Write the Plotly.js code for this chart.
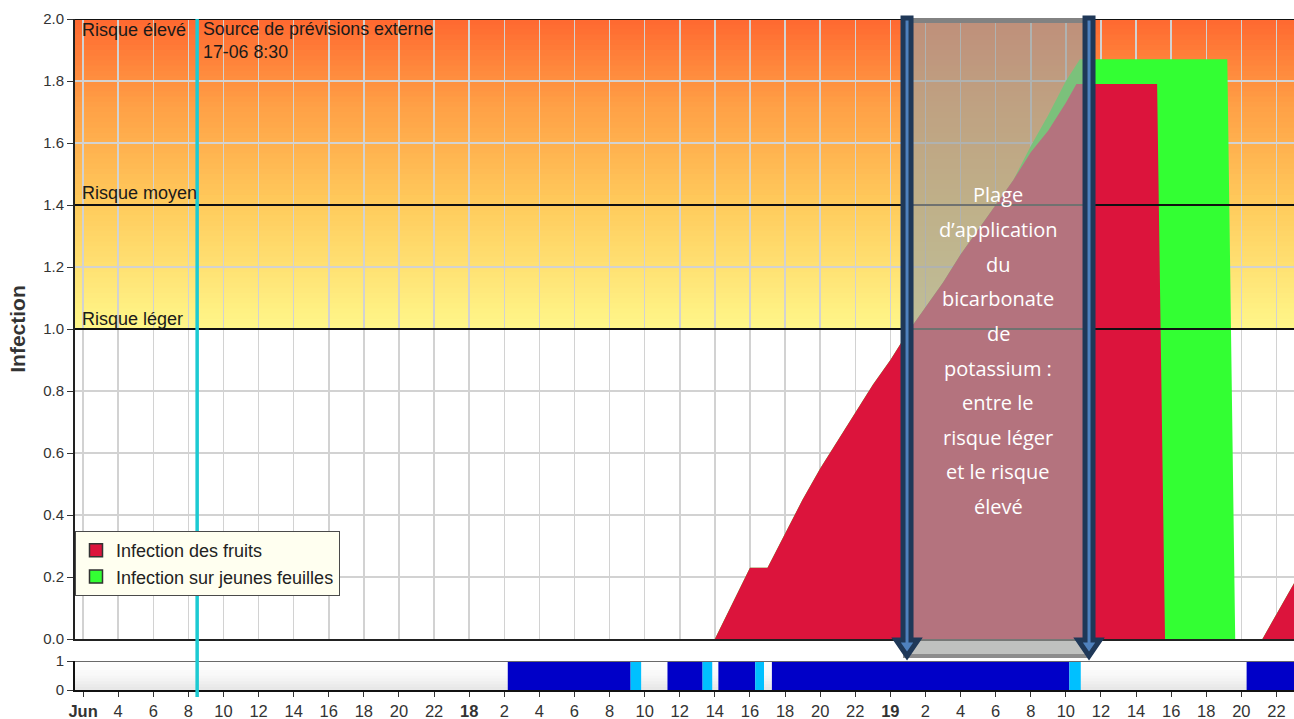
<!DOCTYPE html>
<html>
<head>
<meta charset="utf-8">
<script src="https://cdn.plot.ly/plotly-3.0.1.min.js"></script>
<style>
html,body{margin:0;padding:0;background:#fff;}
#chart{width:1294px;height:719px;}
</style>
</head>
<body>
<div id="chart"></div>
<script>
// ---------------- DATA (x = hours since 17 June 00:00) ----------------
const fruitHours  = [38.0, 40.0, 41.0, 42.0, 43.0, 44.0, 45.0, 46.0, 47.0, 48.0, 49.0, 50.0, 51.0, 52.0, 53.0, 54.0, 55.0, 56.0, 57.0, 58.0, 58.6, 63.2, 63.65, 69.2, 71.0];
const fruitValues = [0.00, 0.23, 0.23, 0.34, 0.45, 0.55, 0.64, 0.73, 0.82, 0.90, 0.99, 1.07, 1.15, 1.24, 1.32, 1.40, 1.48, 1.57, 1.64, 1.73, 1.79, 1.79, 0.00, 0.00, 0.18];

const leafHours   = [38.0, 40.0, 41.0, 42.0, 43.0, 44.0, 45.0, 46.0, 47.0, 48.0, 49.0, 50.0, 51.0, 52.0, 53.0, 54.0, 55.0, 56.0, 57.0, 58.0, 58.8, 67.2, 67.65, 69.2, 71.0];
const leafValues  = [0.00, 0.23, 0.23, 0.34, 0.45, 0.55, 0.64, 0.73, 0.82, 0.90, 0.99, 1.07, 1.15, 1.24, 1.32, 1.40, 1.48, 1.59, 1.69, 1.80, 1.87, 1.87, 0.00, 0.00, 0.18];

// lower strip (0/1 periods)
const wetStart = [26.2, 33.2, 35.3, 37.3, 38.2, 40.3, 41.25, 58.2, 68.3];
const wetEnd   = [33.2, 33.8, 37.3, 37.85, 40.3, 40.8, 58.2, 58.85, 71.0];
const wetKind  = ['dark', 'light', 'dark', 'light', 'dark', 'light', 'dark', 'light', 'dark'];

const tickHours  = [2,4,6,8,10,12,14,16,18,20,22,24,26,28,30,32,34,36,38,40,42,44,46,48,50,52,54,56,58,60,62,64,66,68,70];
const tickLabels = ['<b>Jun</b>','4','6','8','10','12','14','16','18','20','22','<b>18</b>','2','4','6','8','10','12','14','16','18','20','22','<b>19</b>','2','4','6','8','10','12','14','16','18','20','22'];

const riskLevels = [1.0, 1.4, 2.0];
const riskLabels = ['Risque léger', 'Risque moyen', 'Risque élevé'];

const forecastHour  = 8.5;
const forecastLabel = ['Source de prévisions externe', '17-06 8:30'];

const seriesNames = ['Infection des fruits', 'Infection sur jeunes feuilles'];

const applicationRange = [48.95, 59.32];
const boxLines = ['Plage', 'd’application', 'du', 'bicarbonate', 'de', 'potassium :', 'entre le', 'risque léger', 'et le risque', 'élevé'];

// ---------------- STYLE ----------------
const FRUIT = '#dc143c', LEAF = '#33ff33', DARKWET = '#0000c8', LIGHTWET = '#00c0ff';
const X0 = 1.54, X1 = 71.0;
const PXH = 1 / 17.55;            // one pixel in hours
const py = y => (690 - y) / 671;  // pixel row -> paper y

function hex2rgb(h){h=h.replace('#','');return [0,2,4].map(i=>parseInt(h.substr(i,2),16));}
function mix(stops, t){
  for(let i=0;i<stops.length-1;i++){
    const [a,ca]=stops[i],[b,cb]=stops[i+1];
    if(t<=b){const f=(t-a)/(b-a);const A=hex2rgb(ca),B=hex2rgb(cb);
      return 'rgb('+A.map((v,k)=>Math.round(v+(B[k]-v)*f)).join(',')+')';}
  }
  return stops[stops.length-1][1];
}

const shapes = [];
// gradient risk band (between lowest and highest risk level)
const bandStops = [[0,'#fff78a'],[0.4,'#ffcb5c'],[0.72,'#ffa046'],[1,'#ff6830']];
const NB = 60, lo = riskLevels[0], hi = riskLevels[riskLevels.length-1];
for(let i=0;i<NB;i++){
  const y0 = lo + (hi-lo)*i/NB, y1 = lo + (hi-lo)*(i+1.2)/NB;
  shapes.push({type:'rect', xref:'paper', yref:'y', x0:0, x1:1, y0:y0, y1:Math.min(y1,hi),
    fillcolor:mix(bandStops,(i+0.5)/NB), line:{width:0}, layer:'below'});
}
// lower panel background gradient
for(let i=0;i<10;i++){
  shapes.push({type:'rect', xref:'paper', yref:'y2', x0:0, x1:1, y0:i/10, y1:Math.min((i+1.2)/10,1),
    fillcolor:mix([[0,'#e6e6e6'],[0.5,'#f8f8f8'],[1,'#ffffff']],(i+0.5)/10), line:{width:0}, layer:'below'});
}
// risk lines
riskLevels.forEach(v=>shapes.push({type:'line', xref:'paper', yref:'y', x0:0, x1:1, y0:v, y1:v,
  line:{color:'#111', width:2}, layer:'above'}));
// lower panel top border
shapes.push({type:'line', xref:'paper', yref:'y2', x0:0, x1:1, y0:1, y1:1, line:{color:'#6a6a6a', width:2}, layer:'above'});
// forecast line
shapes.push({type:'line', xref:'x', yref:'paper', x0:forecastHour, x1:forecastHour, y0:py(697), y1:1,
  line:{color:'#1ccad2', width:3.5}, layer:'above'});
// application range overlay
const bx0 = applicationRange[0] - 4*PXH, bx1 = applicationRange[1] + 1*PXH;
shapes.push({type:'rect', xref:'x', yref:'paper', x0:bx0, x1:bx1, y0:py(657), y1:py(19),
  fillcolor:'rgba(160,162,160,0.67)', line:{width:0}, layer:'above'});
shapes.push({type:'rect', xref:'x', yref:'paper', x0:bx0, x1:bx1, y0:py(23), y1:py(18),
  fillcolor:'#828282', line:{width:0}, layer:'above'});
shapes.push({type:'rect', xref:'x', yref:'paper', x0:bx0, x1:bx1, y0:py(658), y1:py(654),
  fillcolor:'#8c8c8c', line:{width:0}, layer:'above'});
// arrows
applicationRange.forEach(h=>{
  shapes.push({type:'path', xref:'x', yref:'paper', xsizemode:'pixel', ysizemode:'pixel',
    xanchor:h, yanchor:py(19),
    path:'M -4,1 L 4,1 L 4,-621 L 11,-621 L 0,-637 L -11,-621 L -4,-621 Z',
    fillcolor:'#4f81bd', line:{color:'#1f3858', width:5}, layer:'above'});
});

const annotations = [];
const riskTextY = [319, 193, 30];
riskLabels.forEach((t,i)=>annotations.push({text:t, xref:'paper', yref:'paper', x:0, xshift:5, xanchor:'left',
  y:py(riskTextY[i]), yanchor:'middle', showarrow:false, font:{size:18, color:'#1a1a1a'}}));
annotations.push({text:forecastLabel.join('<br>'), xref:'x', yref:'paper', x:forecastHour, xshift:4, xanchor:'left',
  y:py(40.5), yanchor:'middle', align:'left', showarrow:false, font:{size:17.8, color:'#1a1a1a'}});
const cx = (applicationRange[0]+applicationRange[1])/2;
boxLines.forEach((t,i)=>annotations.push({text:t, xref:'x', yref:'paper', x:cx, xanchor:'center',
  y:py(195 + i*34.6), yanchor:'middle', showarrow:false,
  font:{family:'"Open Sans", sans-serif', size:20, color:'#ffffff'}}));

// ---------------- TRACES ----------------
const gridC = '#d2d2d2';
const traces = [
  {type:'scatter', mode:'lines', x:leafHours, y:leafValues, fill:'tozeroy', fillcolor:LEAF,
   line:{width:0, color:LEAF}, showlegend:false, hoverinfo:'skip', xaxis:'x', yaxis:'y'},
  {type:'scatter', mode:'lines', x:fruitHours, y:fruitValues, fill:'tozeroy', fillcolor:FRUIT,
   line:{width:0, color:FRUIT}, showlegend:false, hoverinfo:'skip', xaxis:'x', yaxis:'y'},
  {type:'scatter', mode:'markers', x:[null], y:[null], name:seriesNames[0],
   marker:{symbol:'square', size:13, color:FRUIT, line:{color:'#333', width:1.5}}, xaxis:'x', yaxis:'y'},
  {type:'scatter', mode:'markers', x:[null], y:[null], name:seriesNames[1],
   marker:{symbol:'square', size:13, color:LEAF, line:{color:'#333', width:1.5}}, xaxis:'x', yaxis:'y'}
];
['dark','light'].forEach(k=>{
  const xs=[], ws=[], ys=[];
  wetStart.forEach((s,i)=>{ if(wetKind[i]===k){ xs.push((s+wetEnd[i])/2); ws.push(wetEnd[i]-s); ys.push(1);} });
  traces.push({type:'bar', x:xs, y:ys, width:ws, base:0, marker:{color:k==='dark'?DARKWET:LIGHTWET, line:{width:0}},
    showlegend:false, hoverinfo:'skip', xaxis:'x2', yaxis:'y2'});
});

const layout = {
  width:1294, height:719,
  margin:{l:75, r:0, t:19, b:29, pad:0},
  paper_bgcolor:'#ffffff', plot_bgcolor:'rgba(0,0,0,0)',
  font:{family:'Arial, "Liberation Sans", sans-serif', color:'#333'},
  barmode:'overlay',
  showlegend:true,
  legend:{x:0, xanchor:'left', y:py(531), yanchor:'top', bgcolor:'#fffff0', bordercolor:'#4a4a4a', borderwidth:1,
    font:{size:18, color:'#222'}, traceorder:'normal'},
  xaxis:{range:[X0,X1], domain:[0,1], anchor:'y', tickvals:tickHours, showticklabels:false, ticks:'',
    showgrid:true, gridcolor:gridC, gridwidth:1.5, showline:true, linecolor:'#222', linewidth:2, zeroline:false, fixedrange:true},
  yaxis:{domain:[py(639),1], range:[0,2], dtick:0.2, tick0:0, tickformat:'.1f', ticks:'outside', ticklen:6, tickcolor:'#333',
    showline:true, linecolor:'#222', linewidth:2, showgrid:true, gridcolor:gridC, gridwidth:1.5, zeroline:false,
    tickfont:{size:15, color:'#333'},
    title:{text:'<b>Infection</b>', font:{size:21, color:'#333'}, standoff:12}},
  xaxis2:{range:[X0,X1], domain:[0,1], anchor:'y2', tickvals:tickHours, ticktext:tickLabels, ticks:'outside', ticklen:5,
    tickcolor:'#333', showgrid:false, showline:true, linecolor:'#111', linewidth:2, zeroline:false,
    tickfont:{size:16.5, color:'#333'}},
  yaxis2:{domain:[0,py(661)], range:[0,1], tickvals:[0,1], ticktext:['0','1'], ticks:'outside', ticklen:6, tickcolor:'#333',
    showgrid:false, showline:true, linecolor:'#111', linewidth:2, zeroline:false, tickfont:{size:15, color:'#333'}},
  shapes:shapes,
  annotations:annotations
};

Plotly.newPlot('chart', traces, layout, {displayModeBar:false, staticPlot:true});
</script>
</body>
</html>
